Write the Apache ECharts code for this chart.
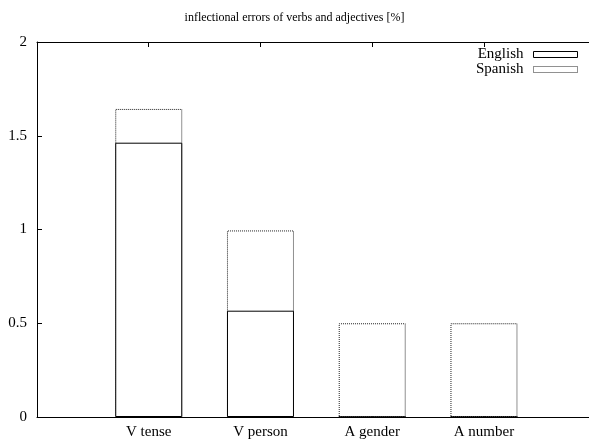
<!DOCTYPE html>
<html>
<head>
<meta charset="utf-8">
<script src="https://cdn.jsdelivr.net/npm/echarts@6/dist/echarts.min.js"></script>
<style>
html,body{margin:0;padding:0;background:#fff;}
#chart{width:589px;height:441px;}
</style>
</head>
<body>
<div id="chart"></div>
<script>
const categories = ['V tense', 'V person', 'A gender', 'A number'];
const english = [1.463, 0.567, 0, 0];
const spanish = [1.643, 0.995, 0.5, 0.5];
const yTicks = [0, 0.5, 1, 1.5, 2];
const titleText = 'inflectional errors of verbs and adjectives [%]';

const FONT = 'Liberation Serif';
const chart = echarts.init(document.getElementById('chart'), null, {renderer: 'canvas'});

const xLabel = v => (v >= 0 && v < categories.length && Number.isInteger(v)) ? categories[v] : '';
// the plot's x range runs past the right edge of the picture (gnuplot range -1..4)
const X_MIN = -1, X_MAX_VISIBLE = 3.94;

chart.setOption({
  animation: false,
  backgroundColor: '#fff',
  title: {
    text: titleText,
    left: 'center',
    top: 7,
    textStyle: {fontFamily: FONT, fontSize: 12, fontWeight: 'normal', color: '#000'}
  },
  legend: {
    orient: 'vertical',
    right: 6,
    top: 42,
    align: 'right',
    itemWidth: 44,
    itemHeight: 6,
    itemGap: 0,
    icon: 'rect',
    textStyle: {fontFamily: FONT, fontSize: 15, color: '#000', padding: [0, 5, 0, 0]},
    data: [
      {name: 'English', itemStyle: {color: '#fff', borderColor: '#000', borderWidth: 1, borderType: 'solid'}},
      {name: 'Spanish', itemStyle: {color: '#fff', borderColor: '#222', borderWidth: 1, borderType: 'dotted'}}
    ]
  },
  grid: {left: 37, top: 42, right: 0, bottom: 24, containLabel: false},
  xAxis: [{
    type: 'value',
    min: X_MIN, max: X_MAX_VISIBLE, interval: 1,
    position: 'bottom',
    axisLine: {show: true, onZero: false, lineStyle: {color: '#000', width: 1}},
    axisTick: {show: true, inside: true, length: 5, lineStyle: {color: '#000'}},
    axisLabel: {formatter: xLabel, fontFamily: FONT, fontSize: 15, color: '#000', margin: 8, showMaxLabel: false},
    splitLine: {show: false}
  }, {
    type: 'value',
    min: X_MIN, max: X_MAX_VISIBLE, interval: 1,
    position: 'top',
    axisLine: {show: true, onZero: false, lineStyle: {color: '#000', width: 1}},
    axisTick: {show: true, inside: true, length: 5, lineStyle: {color: '#000'}},
    axisLabel: {show: false},
    splitLine: {show: false}
  }],
  yAxis: {
    type: 'value',
    min: 0, max: 2, interval: 0.5,
    axisLine: {show: true, onZero: false, lineStyle: {color: '#000', width: 1}},
    axisTick: {show: true, inside: true, length: 5, lineStyle: {color: '#000'}},
    axisLabel: {formatter: v => String(v), fontFamily: FONT, fontSize: 15, color: '#000', margin: 10},
    splitLine: {show: false}
  },
  series: [{
    name: 'Spanish',
    type: 'bar',
    barWidth: 67,
    barGap: '-100%',
    data: spanish.map((v, i) => [i, v]),
    itemStyle: {color: '#fff', borderColor: '#222', borderWidth: 1, borderType: 'dotted'},
    z: 2
  }, {
    name: 'English',
    type: 'bar',
    barWidth: 67,
    barGap: '-100%',
    data: english.map((v, i) => [i, v]),
    itemStyle: {color: '#fff', borderColor: '#000', borderWidth: 1},
    z: 3
  }]
});
</script>
</body>
</html>
